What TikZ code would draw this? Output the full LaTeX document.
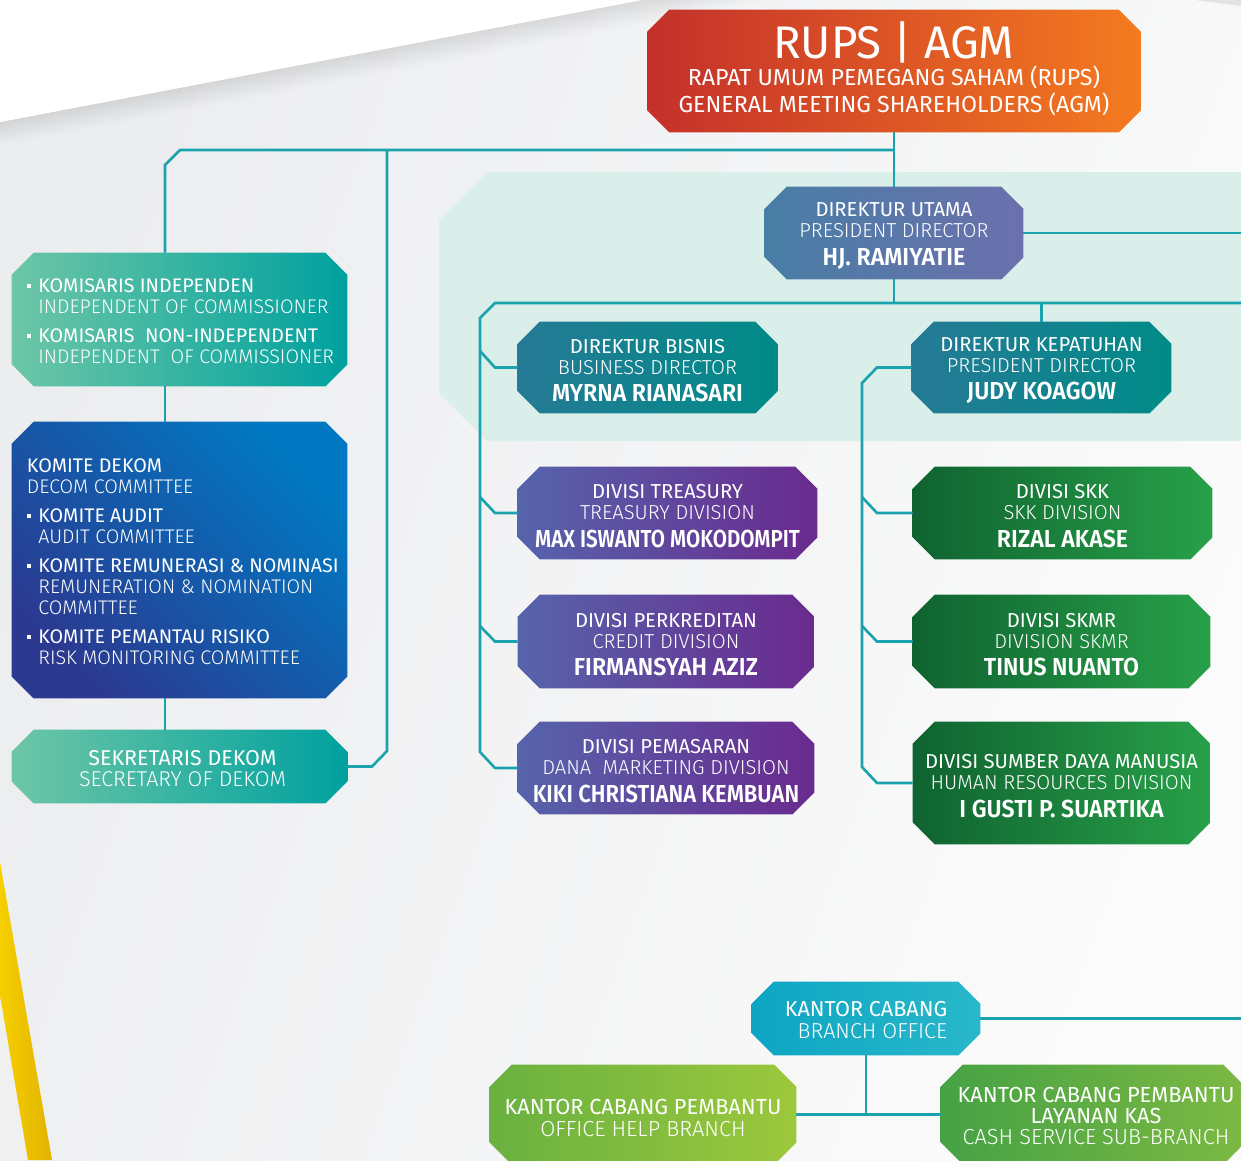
\documentclass[tikz,border=0pt]{standalone}
\usepackage{fontspec}
\setmainfont{Fira Sans}
\newfontfamily\fhead{Fira Sans}
\newfontfamily\flight{Fira Sans Light}
\newfontfamily\fname{Fira Sans SemiBold}[FakeStretch=0.94]
\usepackage{tikz}
\usetikzlibrary{positioning, calc}
\usepackage{xcolor}

\definecolor{linec}{HTML}{1AA3AD}
\definecolor{panel}{HTML}{DAEFEA}
\definecolor{bgL}{HTML}{ECEDEF}
\definecolor{bgR}{HTML}{FBFBFB}
\definecolor{rupsL}{HTML}{C4302A}
\definecolor{rupsR}{HTML}{F47B20}
\definecolor{dirL}{HTML}{487EA5}
\definecolor{dirR}{HTML}{6C70AD}
\definecolor{tealL}{HTML}{257A95}
\definecolor{tealR}{HTML}{008B88}
\definecolor{purL}{HTML}{5664AC}
\definecolor{purR}{HTML}{6A2A8E}
\definecolor{grnL}{HTML}{0F6330}
\definecolor{grnR}{HTML}{28A049}
\definecolor{komL}{HTML}{6DC6A6}
\definecolor{komR}{HTML}{00A19F}
\definecolor{kdkA}{HTML}{0079C2}
\definecolor{kdkB}{HTML}{2B3990}
\definecolor{kcL}{HTML}{0DA5C3}
\definecolor{kcR}{HTML}{29B8CA}
\definecolor{kcpL}{HTML}{69B140}
\definecolor{kcpR}{HTML}{9CC83C}
\definecolor{kasL}{HTML}{46A244}
\definecolor{kasR}{HTML}{7CB943}
\definecolor{gold}{HTML}{F6CF00}
\definecolor{goldD}{HTML}{E2B300}

\newcommand{\who}[3]{#1\\{\flight #2}\\[3.5pt]{\fname\fontsize{14}{14}\selectfont #3}}
\newcommand{\dotm}{\makebox[6.5pt][l]{\rule[2.6pt]{2.2pt}{2.2pt}}}
% chamfered box filled along the border of a named node
\newcommand{\chbox}[2]{\shade[#2] ([xshift=12.5pt]#1.north west) -- ([xshift=-12.5pt]#1.north east)
    -- ([yshift=-12.5pt]#1.north east) -- ([yshift=12.5pt]#1.south east)
    -- ([xshift=-12.5pt]#1.south east) -- ([xshift=12.5pt]#1.south west)
    -- ([yshift=12.5pt]#1.south west) -- ([yshift=-12.5pt]#1.north west) -- cycle;}

\tikzset{
  orgbox/.style n args={2}{rectangle, draw=none, inner sep=0pt,
    minimum width=#1*0.02cm, minimum height=#2*0.02cm},
  txt/.style={text=white, align=center, inner sep=0pt,
    font=\fhead\fontsize{11.5}{12}\selectfont},
  who/.style={txt, yshift=-0.06cm},
  list/.style={txt, anchor=west, align=left, yshift=-0.08cm,
    font=\fhead\fontsize{11.2}{12}\selectfont},
  link/.style={draw=linec, line width=1.5pt},
}

\begin{document}
\begin{tikzpicture}[x=0.02cm, y=-0.02cm]
    \useasboundingbox (0,0) rectangle (1241,1160);
    \clip (0,0) rectangle (1241,1160);

    % Background
    \shade[left color=bgL, right color=bgR, shading angle=70] (0,0) rectangle (1241,1160);
    \foreach \d in {2,4,...,24}{
        \fill[black, opacity=0.006] (0,122) -- (642,0) -- ({(122+\d)/0.19},0) -- (0,122+\d) -- cycle;
    }
    \fill[white] (0,0) -- (642,0) -- (0,122) -- cycle;
    \fill[gray!22] (1195,0) -- (1241,6) -- (1241,0) -- cycle;
    \fill[gray!12] (0,995) -- (28,1160) -- (0,1160) -- cycle;
    \shade[left color=gold, right color=goldD] (0,862) -- (52,1160) -- (28,1160) -- (0,995) -- cycle;

    % Board of directors panel
    \fill[panel] (487,172) -- (1245,172) -- (1245,441) -- (487,441) -- (439,393) -- (439,220) -- cycle;

    % Boxes
    \node[orgbox={493}{122}] (rups) at (894,71) {};
    \node[orgbox={258}{92}] (dirut) at (894,233) {};
    \node[orgbox={259}{91}] (bisnis) at (647.5,367.5) {};
    \node[orgbox={259}{91}] (kep) at (1041.5,367.5) {};
    \node[orgbox={299}{92}] (trs) at (667.5,513) {};
    \node[orgbox={296}{93}] (krd) at (666,641.5) {};
    \node[orgbox={296}{92}] (mkt) at (666,768) {};
    \node[orgbox={299}{92}] (skk) at (1062.5,513) {};
    \node[orgbox={297}{93}] (skmr) at (1061.5,641.5) {};
    \node[orgbox={297}{122}] (sdm) at (1061.5,783) {};
    \node[orgbox={335}{133}] (kom) at (179.5,319.5) {};
    \node[orgbox={335}{276}] (kdk) at (179.5,560) {};
    \node[orgbox={335}{73}] (sek) at (179.5,766.5) {};
    \node[orgbox={228}{73}] (kc) at (866,1018.5) {};
    \node[orgbox={306}{99}] (kcp) at (643,1114.5) {};
    \node[orgbox={304}{99}] (kas) at (1093,1114.5) {};

    \chbox{rups}{left color=rupsL, right color=rupsR}
    \chbox{dirut}{left color=dirL, right color=dirR}
    \chbox{bisnis}{left color=tealL, right color=tealR}
    \chbox{kep}{left color=tealL, right color=tealR}
    \foreach \b in {trs,krd,mkt}{
        \chbox{\b}{left color=purL, right color=purR}
    }
    \foreach \b in {skk,skmr,sdm}{
        \chbox{\b}{left color=grnL, right color=grnR}
    }
    \chbox{kom}{left color=komL, right color=komR}
    \chbox{kdk}{top color=kdkA, bottom color=kdkB, shading angle=-45}
    \chbox{sek}{left color=komL, right color=komR}
    \chbox{kc}{left color=kcL, right color=kcR}
    \chbox{kcp}{left color=kcpL, right color=kcpR}
    \chbox{kas}{left color=kasL, right color=kasR}

    % Lines
    \draw[link] (rups) -- (dirut);
    \draw[link] (894,150) -- (180,150) -- (165,165) -- (kom.north -| 165,0);
    \draw[link] (165,0 |- kom.south) -- (165,0 |- kdk.north);
    \draw[link] (165,0 |- kdk.south) -- (165,0 |- sek.north);
    \draw[link] (387,150) -- (387,751) -- (372,766.5) -- (sek.east);
    \draw[link] (dirut.east) -- (dirut.east -| 1245,0);
    \draw[link] (dirut.south) -- (894,303);
    \draw[link] (1245,303) -- (495,303) -- (480,318) -- (480,752) -- (495,768) -- (mkt.west);
    \draw[link] (480,351) -- (495,367.5) -- (bisnis.west);
    \draw[link] (480,497) -- (495,513) -- (trs.west);
    \draw[link] (480,626) -- (495,641.5) -- (krd.west);
    \draw[link] (1041.5,303) -- (kep.north);
    \draw[link] (kep.west) -- (877,367.5) -- (862,383) -- (862,767) -- (877,783) -- (sdm.west);
    \draw[link] (862,497) -- (877,513) -- (skk.west);
    \draw[link] (862,626) -- (877,641.5) -- (skmr.west);
    \draw[link] (kc.east) -- (kc.east -| 1245,0);
    \draw[link] (kc.south) -- (kc.south |- kcp.east);
    \draw[link] (kcp.east) -- (kas.west);

    % Labels
    \node[txt, yshift=0.04cm, font=\fhead\fontsize{13.2}{15.5}\selectfont] (rups-t) at (rups)
        {{\fontsize{26}{27}\selectfont RUPS | AGM}\\[-0.5pt]
         RAPAT UMUM PEMEGANG SAHAM (RUPS)\\GENERAL MEETING SHAREHOLDERS (AGM)};
    \node[who] (dirut-t) at (dirut) {\who{DIREKTUR UTAMA}{PRESIDENT DIRECTOR}{HJ. RAMIYATIE}};
    \node[who] (bisnis-t) at (bisnis) {\who{DIREKTUR BISNIS}{BUSINESS DIRECTOR}{MYRNA RIANASARI}};
    \node[who] (kep-t) at (kep) {\who{DIREKTUR KEPATUHAN}{PRESIDENT DIRECTOR}{JUDY KOAGOW}};
    \node[who] (trs-t) at (trs) {\who{DIVISI TREASURY}{TREASURY DIVISION}{\scalebox{0.89}[1]{MAX ISWANTO MOKODOMPIT}}};
    \node[who] (krd-t) at (krd) {\who{DIVISI PERKREDITAN}{CREDIT DIVISION}{FIRMANSYAH AZIZ}};
    \node[who] (mkt-t) at (mkt) {\who{DIVISI PEMASARAN}{DANA\ \ MARKETING DIVISION}{\scalebox{0.95}[1]{KIKI CHRISTIANA KEMBUAN}}};
    \node[who] (skk-t) at (skk) {\who{DIVISI SKK}{SKK DIVISION}{RIZAL AKASE}};
    \node[who] (skmr-t) at (skmr) {\who{DIVISI SKMR}{DIVISION SKMR}{TINUS NUANTO}};
    \node[who] (sdm-t) at (sdm) {\who{DIVISI SUMBER DAYA MANUSIA}{HUMAN RESOURCES DIVISION}{I GUSTI P. SUARTIKA}};
    \node[list] (kom-t) at ([xshift=0.3cm]kom.west)
        {\begin{tabular}{@{}l@{}l@{}}
         \dotm & KOMISARIS INDEPENDEN\\
               & \flight INDEPENDENT OF COMMISSIONER\\[4.5pt]
         \dotm & KOMISARIS\ \ NON-INDEPENDENT\\
               & \flight INDEPENDENT\ \ OF COMMISSIONER
         \end{tabular}};
    \node[list] (kdk-t) at ([xshift=0.3cm]kdk.west)
        {\begin{tabular}{@{}l@{}l@{}}
         \multicolumn{2}{@{}l@{}}{KOMITE DEKOM}\\
         \multicolumn{2}{@{}l@{}}{\flight DECOM COMMITTEE}\\[4.5pt]
         \dotm & KOMITE AUDIT\\
               & \flight AUDIT COMMITTEE\\[4.5pt]
         \dotm & KOMITE REMUNERASI \& NOMINASI\\
               & \flight REMUNERATION \& NOMINATION\\
               & \flight COMMITTEE\\[4.5pt]
         \dotm & KOMITE PEMANTAU RISIKO\\
               & \flight RISK MONITORING COMMITTEE
         \end{tabular}};
    \node[txt, yshift=-0.04cm, font=\fhead\fontsize{12.2}{12}\selectfont] (sek-t) at ([xshift=0.06cm]sek)
        {SEKRETARIS DEKOM\\{\flight SECRETARY OF DEKOM}};
    \node[txt, align=right, yshift=-0.03cm, font=\fhead\fontsize{12.3}{12.5}\selectfont] (kc-t) at (kc)
        {KANTOR CABANG\\{\flight BRANCH OFFICE}};
    \node[txt, yshift=-0.07cm, font=\fhead\fontsize{12.4}{12.5}\selectfont] (kcp-t) at (kcp)
        {KANTOR CABANG PEMBANTU\\{\flight OFFICE HELP BRANCH}};
    \node[txt, yshift=-0.03cm, font=\fhead\fontsize{12.4}{12.2}\selectfont] (kas-t) at ([xshift=0.06cm]kas)
        {KANTOR CABANG PEMBANTU\\LAYANAN KAS\\{\flight CASH SERVICE SUB-BRANCH}};
\end{tikzpicture}
\end{document}
